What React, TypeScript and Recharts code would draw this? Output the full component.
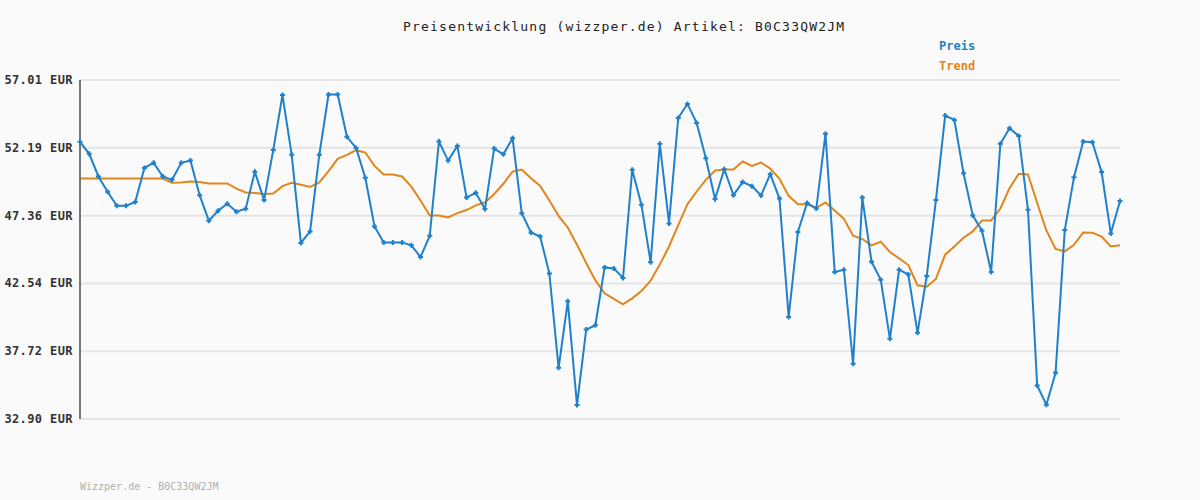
import { LineChart, Line, XAxis, YAxis, CartesianGrid } from "recharts"

// Preis (blue) and Trend (orange), one value per sample
const PRICE = [
  52.61, 51.76, 50.15, 49.06, 48.06, 48.06, 48.33, 50.76, 51.12, 50.15,
  49.91, 51.12, 51.28, 48.82, 47.0, 47.71, 48.21, 47.64, 47.85, 50.48,
  48.47, 52.04, 55.94, 51.69, 45.42, 46.24, 51.69, 55.97, 55.97, 52.97,
  52.18, 50.05, 46.59, 45.46, 45.46, 45.46, 45.25, 44.42, 45.93, 52.63,
  51.28, 52.32, 48.65, 48.99, 47.83, 52.13, 51.73, 52.87, 47.54, 46.17,
  45.88, 43.24, 36.54, 41.27, 33.89, 39.26, 39.57, 43.68, 43.61, 42.93,
  50.62, 48.14, 44.04, 52.47, 46.81, 54.31, 55.31, 53.96, 51.45, 48.54,
  50.67, 48.82, 49.75, 49.46, 48.8, 50.31, 48.58, 40.16, 46.2, 48.26,
  47.87, 53.18, 43.36, 43.52, 36.83, 48.65, 44.09, 42.81, 38.6, 43.52,
  43.17, 39.03, 43.07, 48.47, 54.48, 54.17, 50.38, 47.38, 46.29, 43.36,
  52.47, 53.58, 53.03, 47.78, 35.28, 33.91, 36.19, 46.34, 50.1, 52.63,
  52.58, 50.46, 46.1, 48.4,
]

const TREND = [
  50.0, 50.0, 50.0, 50.0, 50.0, 50.0, 50.0, 50.0, 50.0, 50.0,
  49.7, 49.72, 49.79, 49.76, 49.65, 49.65, 49.65, 49.29, 49.01, 48.98,
  48.9, 48.93, 49.46, 49.7, 49.56, 49.41, 49.72, 50.53, 51.4, 51.68,
  52.02, 51.85, 50.9, 50.29, 50.29, 50.15, 49.43, 48.44, 47.38, 47.38,
  47.24, 47.54, 47.76, 48.09, 48.3, 48.9, 49.63, 50.5, 50.64, 50.03,
  49.48, 48.44, 47.35, 46.52, 45.29, 44.0, 42.76, 41.84, 41.45, 41.06,
  41.48, 42.01, 42.74, 43.88, 45.17, 46.69, 48.18, 49.08, 49.91, 50.57,
  50.64, 50.64, 51.21, 50.9, 51.14, 50.71, 49.98, 48.77, 48.18, 48.18,
  47.92, 48.3, 47.73, 47.14, 45.93, 45.7, 45.25, 45.51, 44.78, 44.32,
  43.85, 42.41, 42.31, 42.86, 44.59, 45.17, 45.79, 46.24, 47.02, 47.02,
  47.87, 49.32, 50.34, 50.29, 48.26, 46.31, 44.99, 44.82, 45.29, 46.17,
  46.15, 45.88, 45.17, 45.25,
]

const Y_TICKS = [32.9, 37.72, 42.54, 47.36, 52.19, 57.01]

const TITLE = "Preisentwicklung (wizzper.de) Artikel: B0C33QW2JM"
const FOOTER = "Wizzper.de - B0C33QW2JM"

const BLUE = "#1f80cc"
const ORANGE = "#e0861c"
const MONO = '"DejaVu Sans Mono", "Liberation Mono", monospace'

const data = PRICE.map((p, i) => ({ idx: i, price: p, trend: TREND[i] }))

function PlusDot(props: any) {
  const { cx, cy } = props
  if (cx == null || cy == null) return null
  return (
    <path
      d={`M${cx - 2.5},${cy}h5M${cx},${cy - 2.5}v5`}
      stroke={BLUE}
      strokeWidth={2}
      fill="none"
    />
  )
}

function YTick(props: any) {
  const { y, payload } = props
  return (
    <text
      x={73}
      y={y}
      dy={4}
      textAnchor="end"
      fontFamily={MONO}
      fontSize={12}
      fontWeight="bold"
      letterSpacing={0.4}
      fill="#333"
    >
      {`${payload.value.toFixed(2)} EUR`}
    </text>
  )
}

export default function App() {
  return (
    <div
      style={{
        position: "absolute",
        left: 0,
        top: 0,
        width: 1200,
        height: 500,
        background: "#fafafa",
        fontFamily: MONO,
      }}
    >
      <div
        style={{
          position: "absolute",
          left: 403,
          top: 19,
          fontSize: 13,
          letterSpacing: 1.2,
          color: "#222",
          whiteSpace: "nowrap",
        }}
      >
        {TITLE}
      </div>
      <div style={{ position: "absolute", left: 939, top: 39, fontSize: 12, fontWeight: "bold", color: BLUE }}>
        Preis
      </div>
      <div style={{ position: "absolute", left: 939, top: 59, fontSize: 12, fontWeight: "bold", color: ORANGE }}>
        Trend
      </div>
      <LineChart
        width={1200}
        height={500}
        data={data}
        margin={{ top: 80, right: 80, bottom: 81, left: 0 }}
      >
        <CartesianGrid vertical={false} stroke="#e4e4e4" strokeWidth={2} />
        <XAxis
          dataKey="idx"
          type="category"
          tick={false}
          tickLine={false}
          height={0}
          axisLine={{ stroke: "#777", strokeWidth: 2 }}
        />
        <YAxis
          width={80}
          domain={[32.9, 57.01]}
          ticks={Y_TICKS}
          allowDataOverflow
          interval={0}
          tickLine={false}
          axisLine={{ stroke: "#777", strokeWidth: 2 }}
          tick={<YTick />}
        />
        <Line
          type="linear"
          dataKey="trend"
          stroke={ORANGE}
          strokeWidth={2}
          dot={false}
          isAnimationActive={false}
        />
        <Line
          type="linear"
          dataKey="price"
          stroke={BLUE}
          strokeWidth={2}
          dot={<PlusDot />}
          activeDot={false}
          isAnimationActive={false}
        />
      </LineChart>
      <div
        style={{
          position: "absolute",
          left: 80,
          top: 481,
          fontSize: 10,
          color: "#b0b0b0",
          whiteSpace: "nowrap",
        }}
      >
        {FOOTER}
      </div>
    </div>
  )
}
